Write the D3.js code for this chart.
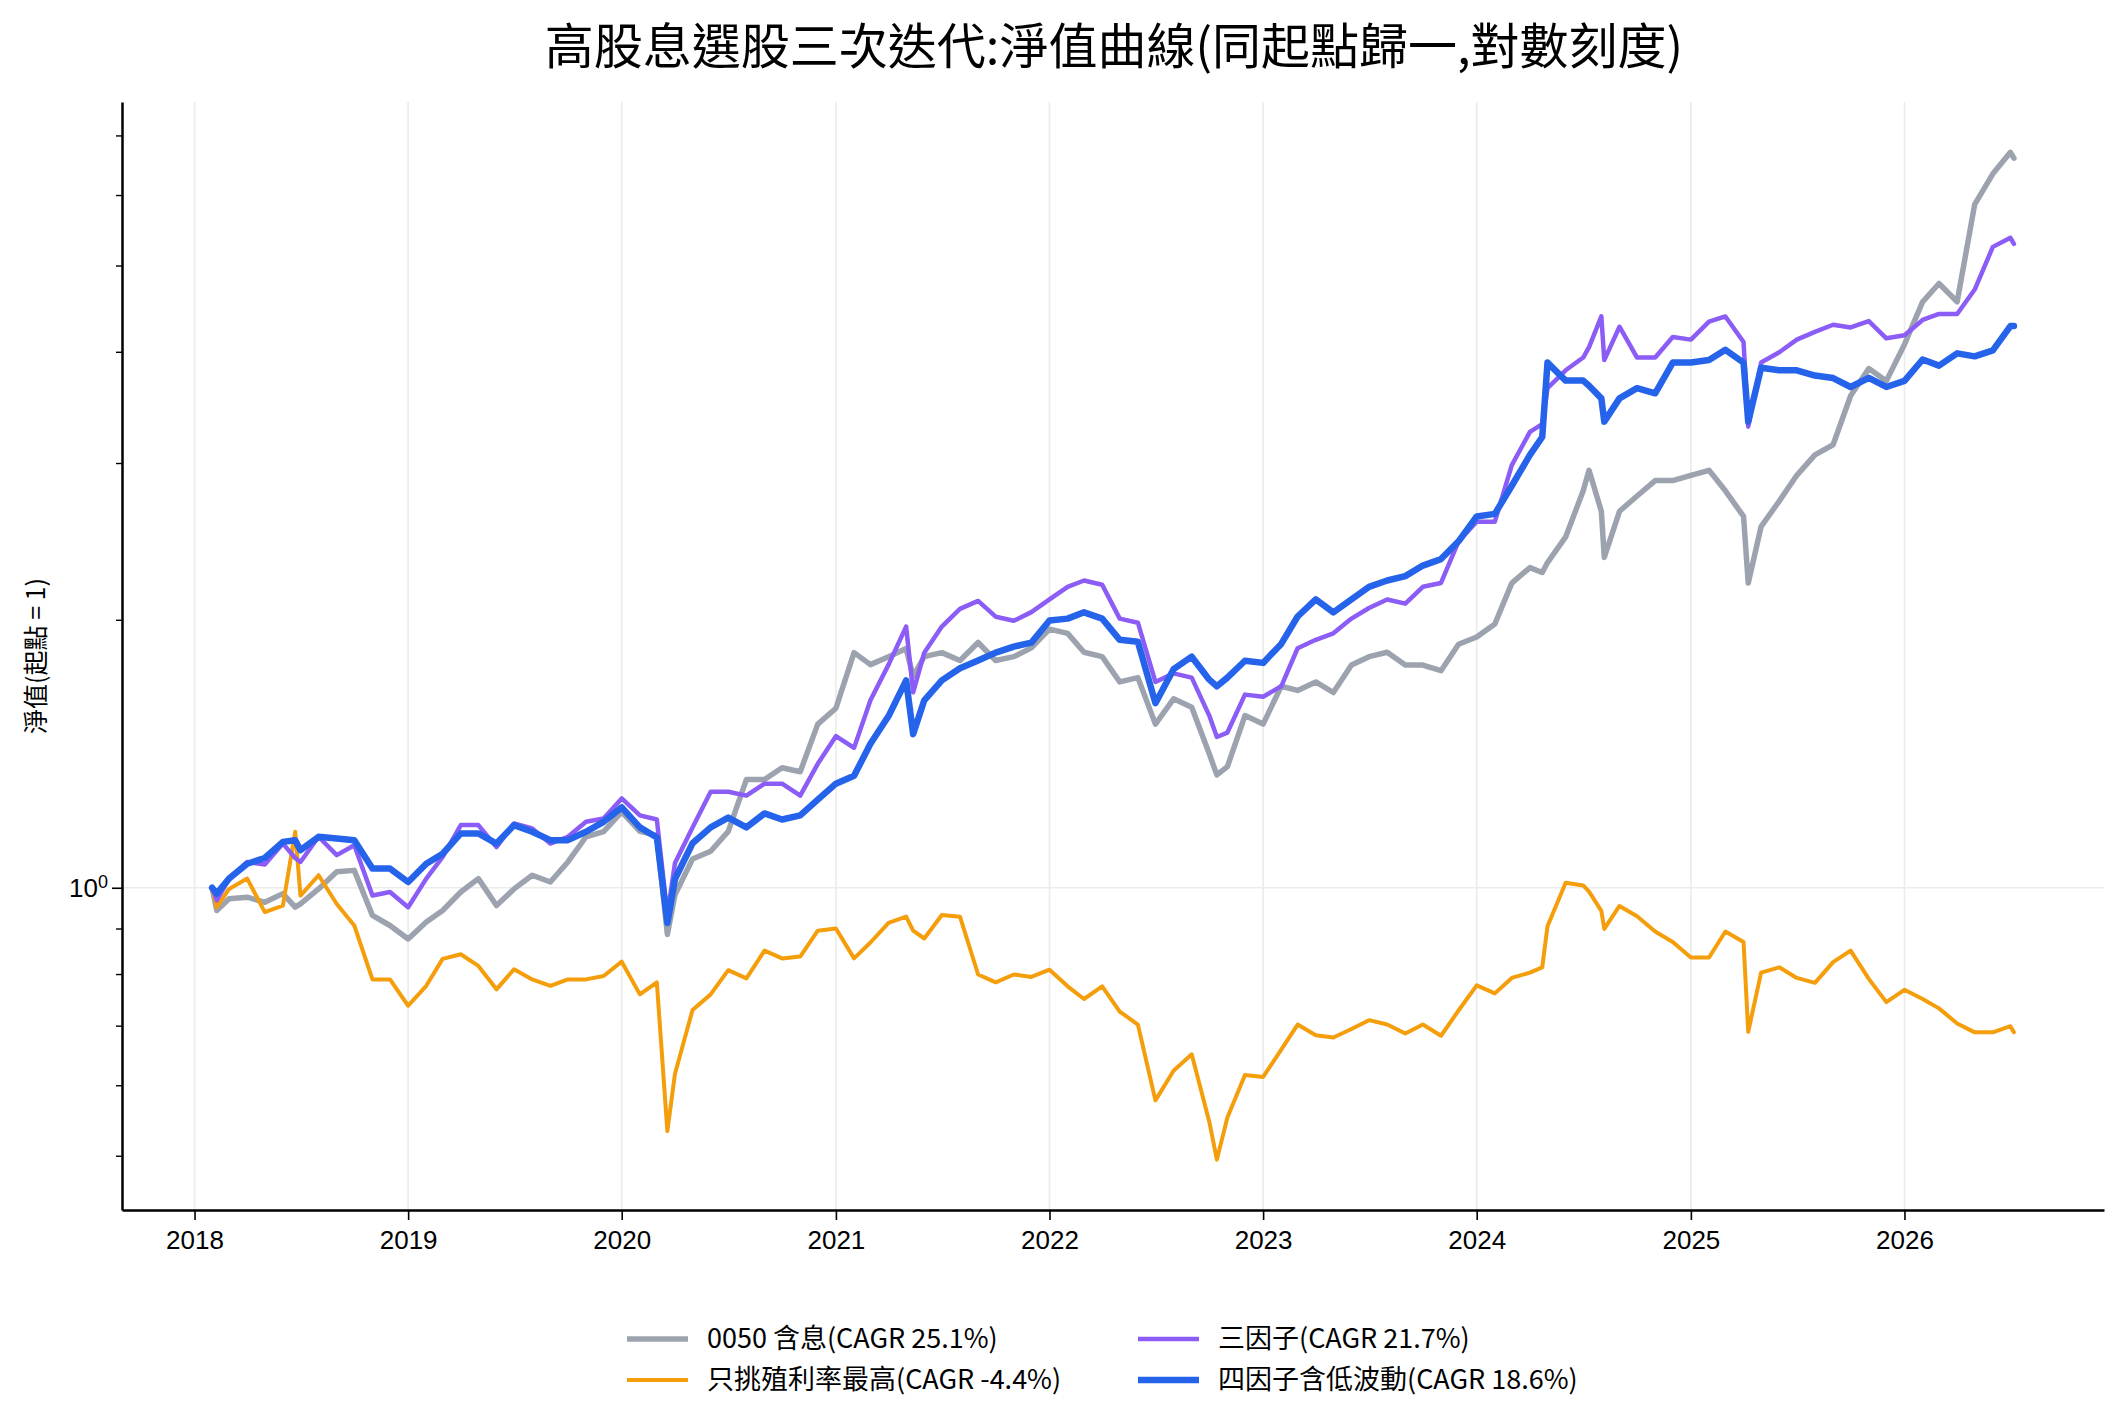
<!DOCTYPE html>
<html>
<head>
<meta charset="utf-8">
<style>
  body { margin: 0; background: #fff; }
  svg { display: block; font-family: "Noto Sans CJK TC", "Noto Sans", sans-serif; }
</style>
</head>
<body>
<div id="chart"></div>
<script src="https://d3js.org/d3.v7.min.js"></script>
<script>
  // shared dates (month starts plus a few spike days)
  var dates = [
    "2018-01-31", "2018-02-08", "2018-03-01", "2018-04-01", "2018-05-01", "2018-06-01", "2018-06-22",
    "2018-07-01", "2018-08-01", "2018-09-01", "2018-10-01", "2018-11-01", "2018-12-01",
    "2019-01-01", "2019-02-01", "2019-03-01", "2019-04-01", "2019-05-01", "2019-06-01",
    "2019-07-01", "2019-08-01", "2019-09-01", "2019-10-01", "2019-11-01", "2019-12-01",
    "2020-01-01", "2020-02-01", "2020-03-01", "2020-03-19", "2020-04-01", "2020-05-01", "2020-06-01",
    "2020-07-01", "2020-08-01", "2020-09-01", "2020-10-01", "2020-11-01", "2020-12-01",
    "2021-01-01", "2021-02-01", "2021-03-01", "2021-04-01", "2021-05-01", "2021-05-13", "2021-06-01",
    "2021-07-01", "2021-08-01", "2021-09-01", "2021-10-01", "2021-11-01", "2021-12-01",
    "2022-01-01", "2022-02-01", "2022-03-01", "2022-04-01", "2022-05-01", "2022-06-01",
    "2022-07-01", "2022-08-01", "2022-09-01", "2022-10-01", "2022-10-14", "2022-11-01", "2022-12-01",
    "2023-01-01", "2023-02-01", "2023-03-01", "2023-04-01", "2023-05-01", "2023-06-01",
    "2023-07-01", "2023-08-01", "2023-09-01", "2023-10-01", "2023-11-01", "2023-12-01",
    "2024-01-01", "2024-02-01", "2024-03-01", "2024-04-01", "2024-04-22", "2024-05-01", "2024-06-01",
    "2024-07-01", "2024-07-11", "2024-08-01", "2024-08-06", "2024-09-01", "2024-10-01", "2024-11-01", "2024-12-01",
    "2025-01-01", "2025-02-01", "2025-03-01", "2025-04-01", "2025-04-09", "2025-05-01", "2025-06-01",
    "2025-07-01", "2025-08-01", "2025-09-01", "2025-10-01", "2025-11-01", "2025-12-01",
    "2026-01-01", "2026-02-01", "2026-03-01", "2026-04-01", "2026-05-01", "2026-06-01", "2026-07-01", "2026-07-07"
  ];

  // 0050 含息
  var nav0050 = [
    1.000, 0.943, 0.972, 0.976, 0.963, 0.985, 0.951, 0.959, 0.997, 1.042, 1.046, 0.931, 0.907,
    0.876, 0.915, 0.943, 0.989, 1.024, 0.955, 0.997, 1.033, 1.015, 1.069, 1.141, 1.156,
    1.217, 1.157, 1.145, 0.886, 0.982, 1.077, 1.099, 1.157, 1.323, 1.323, 1.364, 1.350, 1.527,
    1.591, 1.837, 1.781, 1.818, 1.857, 1.727, 1.818, 1.837, 1.800, 1.886, 1.800, 1.818, 1.860,
    1.952, 1.931, 1.839, 1.818, 1.703, 1.722, 1.527, 1.630, 1.595, 1.414, 1.339, 1.368, 1.561,
    1.527, 1.684, 1.666, 1.703, 1.657, 1.779, 1.818, 1.839, 1.779, 1.779, 1.753, 1.877,
    1.913, 1.978, 2.199, 2.289, 2.260, 2.319, 2.478, 2.792, 2.944, 2.648, 2.350, 2.648, 2.755, 2.867, 2.867,
    2.906, 2.944, 2.792, 2.613, 2.199, 2.545, 2.719, 2.906, 3.064, 3.145, 3.570, 3.830, 3.710,
    4.077, 4.552, 4.773, 4.552, 5.857, 6.338, 6.700, 6.600
  ];

  // 只挑殖利率最高
  var navYield = [
    1.000, 0.951, 0.997, 1.024, 0.939, 0.955, 1.156, 0.980, 1.033, 0.959, 0.907, 0.789, 0.789,
    0.737, 0.776, 0.832, 0.842, 0.817, 0.769, 0.810, 0.789, 0.776, 0.789, 0.789, 0.796,
    0.826, 0.759, 0.783, 0.533, 0.618, 0.729, 0.759, 0.808, 0.791, 0.850, 0.833, 0.837, 0.895,
    0.900, 0.833, 0.868, 0.913, 0.928, 0.895, 0.877, 0.932, 0.928, 0.799, 0.783, 0.799, 0.794,
    0.809, 0.775, 0.750, 0.775, 0.726, 0.702, 0.577, 0.623, 0.650, 0.546, 0.495, 0.552, 0.616,
    0.613, 0.658, 0.702, 0.683, 0.679, 0.694, 0.710, 0.702, 0.686, 0.702, 0.682, 0.728,
    0.777, 0.761, 0.792, 0.803, 0.814, 0.905, 1.013, 1.006, 0.990, 0.942, 0.899, 0.954, 0.929, 0.893, 0.869,
    0.835, 0.835, 0.893, 0.869, 0.689, 0.803, 0.814, 0.792, 0.782, 0.825, 0.850, 0.790, 0.744,
    0.768, 0.750, 0.732, 0.704, 0.688, 0.688, 0.699, 0.688
  ];

  // 三因子
  var nav3f = [
    1.000, 0.968, 1.024, 1.069, 1.062, 1.121, 1.080, 1.069, 1.141, 1.088, 1.116, 0.980, 0.989,
    0.951, 1.024, 1.083, 1.176, 1.176, 1.111, 1.181, 1.166, 1.121, 1.141, 1.186, 1.196,
    1.260, 1.206, 1.193, 0.932, 1.066, 1.169, 1.282, 1.282, 1.269, 1.309, 1.309, 1.269, 1.378,
    1.480, 1.436, 1.624, 1.781, 1.965, 1.658, 1.837, 1.965, 2.057, 2.100, 2.016, 1.995, 2.040,
    2.108, 2.178, 2.214, 2.190, 2.006, 1.985, 1.703, 1.741, 1.722, 1.561, 1.477, 1.494, 1.648,
    1.639, 1.684, 1.858, 1.899, 1.931, 2.006, 2.062, 2.108, 2.085, 2.178, 2.200, 2.450,
    2.578, 2.578, 2.984, 3.252, 3.317, 3.641, 3.813, 3.941, 4.048, 4.383, 3.915, 4.268, 3.941, 3.941, 4.156,
    4.128, 4.325, 4.383, 4.102, 3.296, 3.890, 3.995, 4.128, 4.212, 4.290, 4.260, 4.330, 4.142,
    4.174, 4.343, 4.411, 4.411, 4.699, 5.247, 5.372, 5.288
  ];

  // 四因子含低波動
  var nav4f = [
    1.000, 0.985, 1.024, 1.064, 1.080, 1.126, 1.131, 1.102, 1.141, 1.136, 1.131, 1.051, 1.051,
    1.015, 1.064, 1.092, 1.151, 1.151, 1.121, 1.176, 1.156, 1.131, 1.131, 1.156, 1.186,
    1.231, 1.169, 1.139, 0.913, 1.023, 1.122, 1.169, 1.199, 1.169, 1.212, 1.193, 1.206, 1.256,
    1.309, 1.336, 1.451, 1.559, 1.710, 1.488, 1.624, 1.710, 1.764, 1.800, 1.837, 1.866, 1.885,
    1.996, 2.006, 2.039, 2.006, 1.899, 1.889, 1.612, 1.760, 1.818, 1.713, 1.684, 1.722, 1.799,
    1.789, 1.879, 2.017, 2.108, 2.039, 2.108, 2.178, 2.214, 2.239, 2.301, 2.340, 2.450,
    2.613, 2.630, 2.829, 3.064, 3.209, 3.890, 3.713, 3.713, 3.664, 3.546, 3.339, 3.546, 3.641, 3.593, 3.890,
    3.890, 3.915, 4.020, 3.890, 3.339, 3.839, 3.813, 3.813, 3.762, 3.737, 3.652, 3.739, 3.652,
    3.710, 3.921, 3.859, 3.984, 3.953, 4.015, 4.275, 4.275
  ];

  var labels = ["0050 含息(CAGR 25.1%)", "只挑殖利率最高(CAGR -4.4%)", "三因子(CAGR 21.7%)", "四因子含低波動(CAGR 18.6%)"];

  var W = 2125, H = 1426;
  var margin = { top: 102, right: 21, bottom: 216, left: 122 };
  var width = W - margin.left - margin.right,
    height = H - margin.top - margin.bottom;

  var parseDate = d3.timeParse("%Y-%m-%d");
  var t = dates.map(parseDate);

  var series = [
    { name: labels[0], values: nav0050, color: "#9ca3af", w: 5.5 },
    { name: labels[1], values: navYield, color: "#f59e0b", w: 4 },
    { name: labels[2], values: nav3f, color: "#8b5cf6", w: 4.5 },
    { name: labels[3], values: nav4f, color: "#2563eb", w: 6.5 }
  ];

  // matplotlib style 5% margins
  var tExt = d3.extent(t);
  var tPad = (tExt[1] - tExt[0]) * 0.05;
  var x = d3.scaleTime()
    .domain([new Date(+tExt[0] - tPad), new Date(+tExt[1] + tPad)])
    .range([0, width]);

  var allVals = [].concat(nav0050, navYield, nav3f, nav4f);
  var lo = Math.log10(d3.min(allVals)), hi = Math.log10(d3.max(allVals));
  var lPad = (hi - lo) * 0.05;
  var y = d3.scaleLog()
    .domain([Math.pow(10, lo - lPad), Math.pow(10, hi + lPad)])
    .range([height, 0]);

  var svg = d3.select("#chart").append("svg")
    .attr("width", W)
    .attr("height", H);

  svg.append("rect").attr("width", W).attr("height", H).attr("fill", "#fff");

  var g = svg.append("g")
    .attr("transform", "translate(" + margin.left + "," + margin.top + ")");

  // grid
  var years = x.ticks(d3.timeYear.every(1));
  g.selectAll(".vgrid")
    .data(years)
    .enter().append("line")
    .attr("x1", function(d) { return x(d); })
    .attr("x2", function(d) { return x(d); })
    .attr("y1", 0)
    .attr("y2", height)
    .attr("stroke", "#ebebeb")
    .attr("stroke-width", 1.6);

  g.append("line")
    .attr("x1", 0).attr("x2", width)
    .attr("y1", y(1)).attr("y2", y(1))
    .attr("stroke", "#ebebeb")
    .attr("stroke-width", 1.6);

  // lines
  var line = d3.line()
    .x(function(d, i) { return x(t[i]); })
    .y(function(d) { return y(d); });

  series.forEach(function(s) {
    g.append("path")
      .datum(s.values)
      .attr("fill", "none")
      .attr("stroke", s.color)
      .attr("stroke-width", s.w)
      .attr("stroke-linejoin", "round")
      .attr("stroke-linecap", "round")
      .attr("d", line);
  });

  // x axis
  var xAxis = g.append("g")
    .attr("transform", "translate(0," + height + ")")
    .call(d3.axisBottom(x)
      .tickValues(years)
      .tickFormat(d3.timeFormat("%Y"))
      .tickSize(10)
      .tickSizeOuter(0)
      .tickPadding(11));
  xAxis.selectAll("text").style("font-size", "26px").attr("fill", "#000");
  xAxis.selectAll("line").attr("stroke", "#000").attr("stroke-width", 1.6);
  xAxis.select(".domain").attr("stroke", "#000").attr("stroke-width", 2.5);

  // y axis: minor ticks
  var minor = [0.5, 0.6, 0.7, 0.8, 0.9, 2, 3, 4, 5, 6, 7].filter(function(v) {
    return v >= y.domain()[0] && v <= y.domain()[1];
  });
  var yMinor = g.append("g")
    .call(d3.axisLeft(y)
      .tickValues(minor)
      .tickFormat("")
      .tickSize(6)
      .tickSizeOuter(0));
  yMinor.selectAll("line").attr("stroke", "#000").attr("stroke-width", 1.4);
  yMinor.select(".domain").attr("stroke", "#000").attr("stroke-width", 2.5);

  var yMajor = g.append("g")
    .call(d3.axisLeft(y)
      .tickValues([1])
      .tickFormat("")
      .tickSize(10)
      .tickSizeOuter(0));
  yMajor.select(".domain").remove();
  yMajor.selectAll("line").attr("stroke", "#000").attr("stroke-width", 1.6);
  var lab = yMajor.select(".tick").append("text")
    .attr("x", -14)
    .attr("dy", "0.35em")
    .attr("text-anchor", "end")
    .attr("fill", "#000")
    .style("font-size", "26px");
  lab.append("tspan").text("10");
  lab.append("tspan").attr("dy", "-0.5em").style("font-size", "18px").text("0");

  // y label
  svg.append("text")
    .attr("transform", "translate(36," + (margin.top + height / 2) + ") rotate(-90)")
    .attr("text-anchor", "middle")
    .attr("dy", "0.35em")
    .style("font-size", "25px")
    .text("淨值(起點 = 1)");

  // title
  svg.append("text")
    .attr("x", 1114)
    .attr("y", 46)
    .attr("text-anchor", "middle")
    .attr("dy", "0.36em")
    .style("font-size", "49px")
    .style("font-weight", 400)
    .text("高股息選股三次迭代:淨值曲線(同起點歸一,對數刻度)");

  // legend, 2 columns filled column-wise
  var legPos = [[627, 1339], [627, 1380], [1138, 1339], [1138, 1380]];
  series.forEach(function(s, i) {
    var lg = svg.append("g").attr("transform", "translate(" + legPos[i][0] + "," + legPos[i][1] + ")");
    lg.append("line")
      .attr("x1", 0).attr("x2", 61)
      .attr("y1", 0).attr("y2", 0)
      .attr("stroke", s.color)
      .attr("stroke-width", s.w);
    lg.append("text")
      .attr("x", 80)
      .attr("dy", "0.35em")
      .style("font-size", "27px")
      .text(s.name);
  });
</script>
</body>
</html>
